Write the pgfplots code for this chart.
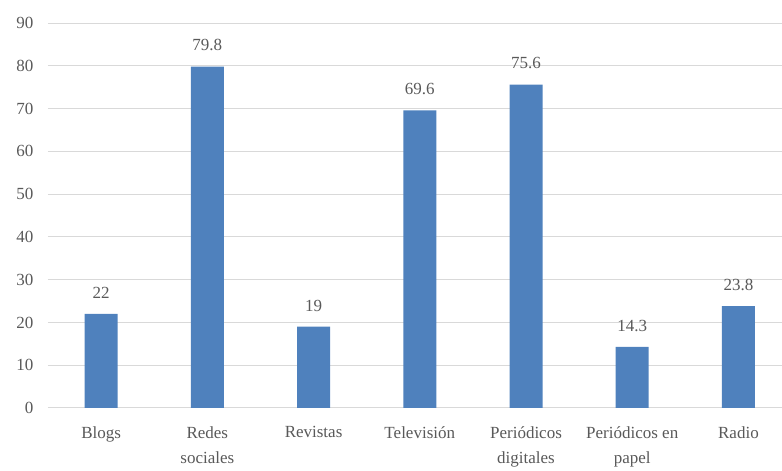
\documentclass[border=0pt]{standalone}
\usepackage{fontspec}
\setmainfont{Liberation Serif}
\usepackage{pgfplots}
\pgfplotsset{compat=1.18}
\definecolor{barblue}{HTML}{4F81BD}
\definecolor{txtgray}{HTML}{595959}
\definecolor{gridgray}{HTML}{D9D9D9}
\begin{document}
\begin{tikzpicture}
\useasboundingbox (-48pt,-63pt) rectangle (734pt,408pt);
\begin{axis}[
  at={(0,0)}, anchor=south west,
  scale only axis,
  width=734pt, height=385pt,
  xmin=-0.5, xmax=6.41,
  ymin=0, ymax=90,
  ytick={0,10,...,90},
  xtick={0,...,6},
  xticklabels={Blogs,Redes\\sociales,Revistas,Televisión,Periódicos\\digitales,Periódicos en\\papel,Radio},
  ymajorgrids,
  grid style={gridgray, line width=1pt},
  axis line style={draw=none},
  major tick length=0pt,
  font=\fontsize{17}{25}\selectfont,
  /pgf/number format/assume math mode=true,
  tick label style={txtgray},
  yticklabel style={xshift=-11pt},
  xticklabel style={align=center, yshift=-15pt},
  clip=false,
]
\draw[gridgray, line width=1pt] (axis cs:-0.5,0) -- (axis cs:6.41,0);
\addplot[ybar, bar width=33pt, fill=barblue, draw=none,
  nodes near coords,
  every node near coord/.append style={txtgray, yshift=12pt}]
  coordinates {(0,22) (1,79.8) (2,19) (3,69.6) (4,75.6) (5,14.3) (6,23.8)};
\end{axis}
\end{tikzpicture}
\end{document}
